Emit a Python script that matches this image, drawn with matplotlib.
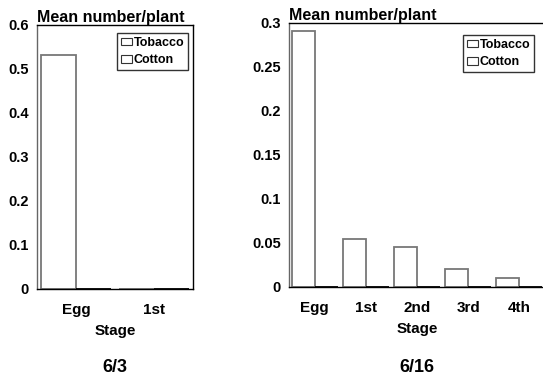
import matplotlib
matplotlib.use('Agg')
import matplotlib.pyplot as plt
import numpy as np

plt.rcParams['font.family'] = ['Liberation Sans', 'DejaVu Sans']
plt.rcParams['font.weight'] = 'bold'

# 6/3 panel
stages_a = ['Egg', '1st']
tobacco_a = [0.532, 0.001]
cotton_a = [0.0, 0.0]

# 6/16 panel
stages_b = ['Egg', '1st', '2nd', '3rd', '4th']
tobacco_b = [0.291, 0.055, 0.045, 0.02, 0.01]
cotton_b = [0.0, 0.0, 0.0, 0.0, 0.0]

W, H = 543, 379
fig = plt.figure(figsize=(W / 100, H / 100), dpi=100)


def panel(rect, stages, tob, cot, ymax, yticks, yticklabels, date, date_x, leg_box):
    ax = fig.add_axes(rect)
    x = np.arange(len(stages))
    w = 0.45
    ax.bar(x - w / 2, tob, w, facecolor='white', edgecolor='#777777',
           linewidth=1.3, label='Tobacco')
    ax.bar(x + w / 2, cot, w, facecolor='white', edgecolor='black',
           linewidth=1.3, label='Cotton')
    ax.set_xlim(-0.5, len(stages) - 0.5)
    ax.set_ylim(0, ymax)
    ax.set_xticks(x)
    ax.set_xticklabels(stages, fontsize=11, fontweight='bold')
    ax.set_yticks(yticks)
    ax.set_yticklabels(yticklabels, fontsize=10.5, fontweight='bold')
    ax.tick_params(axis='y', length=0, pad=6)
    ax.tick_params(axis='x', length=0, pad=10)
    for s in ax.spines.values():
        s.set_linewidth(1.0)
    ax.spines['left'].set_color('#666666')
    ax.set_xlabel('Stage', fontsize=11, fontweight='bold', labelpad=5)
    ax.text(0.0, 1.0, 'Mean number/plant', transform=ax.transAxes,
            fontsize=11.5, fontweight='bold', ha='left', va='bottom')
    leg = ax.legend(loc='upper right', bbox_to_anchor=leg_box,
                    bbox_transform=fig.transFigure,
                    prop={'size': 9, 'weight': 'bold'},
                    frameon=True, fancybox=False, handlelength=0.9,
                    handleheight=0.55, handletextpad=0.1, borderpad=0.3,
                    labelspacing=0.45, borderaxespad=0)
    leg.get_frame().set_edgecolor('black')
    leg.get_frame().set_linewidth(1.0)
    for h in leg.legend_handles:
        h.set_edgecolor('#333333')
        h.set_linewidth(0.8)
    fig.text(date_x / W, 1 - 367 / H, date, fontsize=13, fontweight='bold',
             ha='center', va='center')
    return ax


panel([37 / W, 1 - 289 / H, 156 / W, 264 / H], stages_a, tobacco_a, cotton_a,
      0.6, [0, 0.1, 0.2, 0.3, 0.4, 0.5, 0.6],
      ['0', '0.1', '0.2', '0.3', '0.4', '0.5', '0.6'], '6/3', 115,
      (188 / W, 1 - 33 / H))
panel([289 / W, 1 - 287 / H, 256 / W, 264 / H], stages_b, tobacco_b, cotton_b,
      0.3, [0, 0.05, 0.1, 0.15, 0.2, 0.25, 0.3],
      ['0', '0.05', '0.1', '0.15', '0.2', '0.25', '0.3'], '6/16', 417,
      (534 / W, 1 - 35 / H))

fig.savefig('out.png', dpi=100)
